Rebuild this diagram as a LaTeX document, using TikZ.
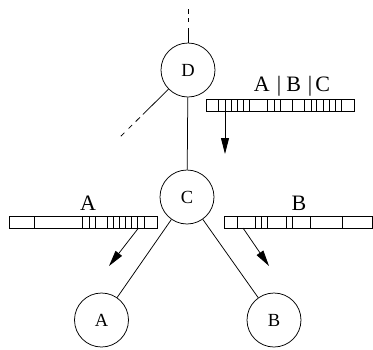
\documentclass[tikz,border=0pt]{standalone}
\usepackage{fontspec}
\setmainfont{Liberation Serif}
\usetikzlibrary{arrows.meta}
\begin{document}
\begin{tikzpicture}[x=1pt,y=-1pt,line width=0.75pt,
  treenode/.style={circle,draw,minimum size=54pt,inner sep=0pt,font=\fontsize{18.5}{18.5}\selectfont},
  lbl/.style={font=\fontsize{22}{22}\selectfont,inner sep=0pt,anchor=base},
  arr/.style={-{Triangle[length=16pt,width=8pt]}},
  bufbox/.style={draw,minimum height=12pt,inner sep=0pt,anchor=north west}]
\useasboundingbox (0,0) rectangle (373,349);
% tree nodes
\node[treenode] (D) at (188,70) {D};
\node[treenode] (C) at (187,197) {C};
\node[treenode] (A) at (101.5,320) {A};
\node[treenode] (B) at (274,320) {B};
\draw (D) -- (C);
\draw (C) -- (A);
\draw (C) -- (B);
% dashed continuations of D
\coordinate (Dt) at (188,8);
\draw[dash pattern=on 15pt off 6pt on 4pt off 4pt on 5pt] (D.north) -- (Dt);
\coordinate (Dl) at (120,137);
\draw[dash pattern=on 36pt off 4pt on 6pt off 5pt on 5pt off 6pt on 5pt] (D) -- (Dl);
% buffer A|B|C
\node[bufbox,minimum width=148pt] (babc) at (206,99) {};
\foreach \x in {218.3,225,231,237.3,243.3,249.3,267.7,274,280,292.3,304.7,311,316.7,323,329,335.3,341.3}
  \draw (\x,99) -- (\x,111);
\node[lbl] (tabc) at (292,91.7) {A\hskip7pt|\hskip5pt B\hskip7pt|\hskip3pt C};
\coordinate (abcs) at (225,111);
\coordinate (abct) at (225,154);
\draw[arr] (abcs) -- (abct);
% buffer A
\node[bufbox,minimum width=148pt] (ba) at (9.3,216) {};
\foreach \x in {34.3,82.7,89.3,95.7,107.3,113.3,119,125.7,131.7,137.7,144}
  \draw (\x,216) -- (\x,228);
\node[lbl] (ta) at (88,210) {A};
\coordinate (as) at (138.5,228);
\coordinate (at) at (109,266);
\draw[arr] (as) -- (at);
% buffer B
\node[bufbox,minimum width=148pt] (bb) at (224,216) {};
\foreach \x in {237,255.7,261.3,267.3,286.3,292,310.7,342}
  \draw (\x,216) -- (\x,228);
\node[lbl] (tb) at (299,210) {B};
\coordinate (bs) at (243,228);
\coordinate (bt) at (269,266);
\draw[arr] (bs) -- (bt);
\end{tikzpicture}
\end{document}
